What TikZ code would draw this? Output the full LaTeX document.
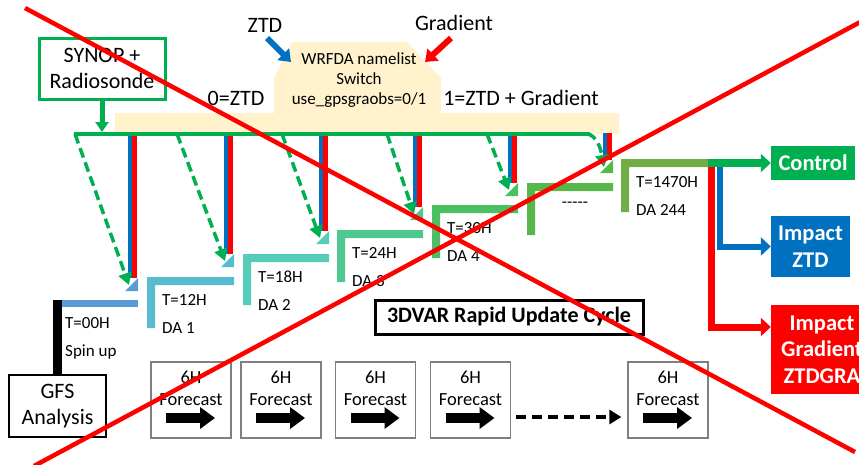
\documentclass[tikz,border=0pt]{standalone}
\usepackage{fontspec}
\setmainfont{Carlito}
\usetikzlibrary{arrows.meta}
\definecolor{cgreen}{HTML}{00B050}
\definecolor{cblue}{HTML}{0070C0}
\definecolor{cred}{HTML}{FF0000}
\definecolor{beige}{HTML}{FFF2CC}
\definecolor{lb0}{HTML}{5B9BD5}
\definecolor{lc1}{HTML}{57BCCF}
\definecolor{lc2}{HTML}{55CDB8}
\definecolor{lc3}{HTML}{4FC88F}
\definecolor{lc4}{HTML}{49C162}
\definecolor{lc5}{HTML}{55B848}
\definecolor{lc6}{HTML}{70AD47}
\definecolor{fgray}{HTML}{7F7F7F}
\begin{document}
\begin{tikzpicture}[x=1pt,y=-1pt,
  bigtxt/.style={font=\fontsize{22}{26}\selectfont, align=center, inner sep=0pt},
  midtxt/.style={font=\fontsize{17}{20}\selectfont, align=center, inner sep=0pt},
  fctxt/.style={font=\fontsize{18.5}{22}\selectfont, inner sep=0pt},
  boldw/.style={font=\bfseries\fontsize{22.5}{26.5}\selectfont, text=white, align=center, inner sep=0pt},
  dasharrow/.style={cgreen, line width=3.5pt, dash pattern=on 10pt off 5pt, -{Triangle[length=12pt,width=13pt]}},
  fcbox/.style={draw=fgray, line width=1.3pt, minimum width=80pt, minimum height=76pt, inner sep=0pt},
  fcarrow/.style={line width=10pt, -{Triangle[length=15pt,width=21pt]}},
  blockarrow/.style={line width=#1, line join=miter, -{Triangle[length=10pt,width=18pt]}}
]
\useasboundingbox (0,0) rectangle (859,464);
\clip (0,0) rectangle (859,464);

% beige switch shape
\fill[beige] (115,113) -- (274,113) -- (274,78) -- (292,42) -- (407,42) -- (441,78)
  -- (441,113) -- (619,113) -- (619,134) -- (115,134) -- cycle;
\node[midtxt] (wrf) at (359,80) {WRFDA namelist\\Switch\\use\_gpsgraobs=0/1};
\node[bigtxt] (zero) at (236,98) {0=ZTD};
\node[bigtxt] (one) at (521,98) {1=ZTD + Gradient};

% ZTD / Gradient inputs
\node[bigtxt] (ztd) at (265,25) {ZTD};
\node[bigtxt] (grad) at (454,23) {Gradient};
\coordinate (ztdin) at (291,62);
\coordinate (gradin) at (425,62);
\draw[cblue, line width=6pt, -{Triangle[length=11pt,width=16pt]}] (267,38) -- (ztdin);
\draw[cred, line width=6pt, -{Triangle[length=11pt,width=16pt]}] (451,38) -- (gradin);

% SYNOP box
\node[draw=cgreen, line width=3pt, minimum width=126pt, minimum height=61pt, bigtxt] (synop) at (102,68.5) {SYNOP +\\Radiosonde};
\coordinate (synin) at (102,132);
\draw[cgreen, line width=5pt, -{Triangle[length=10pt,width=13pt]}] (synop.south) -- (synin);

% pairs of blue/red lines, tips, dashed arrows
\foreach \R/\B/\col/\sx in {138/291/lb0/75, 234/267/lc1/177, 329/244/lc2/282, 423/220/lc3/387, 518/196/lc4/487}{
  \draw[cblue, line width=4.5pt] ({\R-8},134) -- ({\R-8},{\B-13});
  \draw[cred, line width=4.5pt] ({\R-3.5},134) -- ({\R-3.5},{\B-13});
  \fill[\col] (\R,{\B-13}) -- (\R,\B) -- ({\R-13},\B) -- cycle;
  \draw[dasharrow] (\sx,134) -- ({\R-9},{\B-6});
}
\draw[cblue, line width=4.5pt] (605,133) -- (605,160);
\draw[cred, line width=4.5pt] (609.5,133) -- (609.5,160);
\fill[lc5] (613,160) -- (613,173) -- (600,173) -- cycle;
\draw[cgreen, line width=4pt] (74,134) -- (590,134);
\draw[dasharrow] (587,134) .. controls (597,135) and (601,150) .. (604,167);

% spin up
\node[draw, line width=2.5pt, minimum width=97pt, minimum height=62pt, bigtxt] (gfs) at (57.5,406) {GFS\\Analysis};
\coordinate (t00) at (57.5,300);
\draw[line width=9pt] (gfs.north) -- (t00);
\fill[lb0] (62,300) rectangle (138,307);
\node[midtxt, anchor=west] (t00txt) at (65,323) {T=00H};
\node[midtxt, anchor=west] (spin) at (65,352) {Spin up};

% right branches
\node[fill=cgreen, minimum width=84pt, minimum height=34pt, boldw] (ctrl) at (813,163) {Control};
\node[fill=cblue, minimum width=79pt, minimum height=61pt, boldw] (imgz) at (810.5,246.5) {Impact\\ZTD};
\node[fill=cred, minimum width=102pt, minimum height=89pt, boldw] (imgr) at (822,349.5) {Impact\\Gradient\\ZTDGRA};
\path (imgr.west) ++(0,-22.5) coordinate (rin);
\draw[cred, blockarrow=7pt] (711.5,165) -- (711.5,327) -- (rin);
\draw[cblue, blockarrow=6pt] (720,165) -- (720,246.5) -- (imgz.west);

% L shapes
\foreach \L/\R/\T/\Bt/\col/\ta/\tb in {147/234/277/328/lc1/T=12H/DA 1, 243/329/254/305/lc2/T=18H/DA 2, 337/423/230/282/lc3/T=24H/DA 3, 432/518/205/258/lc4/T=30H/DA 4, 621/708/159/212/lc6/T=1470H/DA 244}{
  \fill[\col] (\L,\T) -- (\R,\T) -- (\R,{\T+8}) -- ({\L+8},{\T+8}) -- ({\L+8},\Bt) -- (\L,\Bt) -- cycle;
  \node[midtxt, anchor=west] at ({\L+15},{\T+23}) {\ta};
  \node[midtxt, anchor=west] at ({\L+15},{\T+51}) {\tb};
}
\fill[lc5] (527,183) -- (613,183) -- (613,191) -- (535,191) -- (535,235) -- (527,235) -- cycle;
\node[midtxt] (dots) at (575,205) {-{}-{}-{}-{}-};

\coordinate (l6end) at (708,163);
\draw[cgreen, blockarrow=8pt] (l6end) -- (ctrl.west);

% 3DVAR label
\node[draw, line width=3pt, minimum width=268pt, minimum height=34pt, inner sep=0pt, font=\bfseries\fontsize{22}{26}\selectfont] (rap) at (509,317) {3DVAR Rapid Update Cycle};

% forecast boxes
\foreach \cx/\n in {191/1, 281/2, 375.5/3, 470.5/4, 668/5}{
  \node[fcbox] (fc\n) at (\cx,400) {};
  \node[fctxt] at (\cx,377) {6H};
  \node[fctxt] at (\cx,400) {Forecast};
  \draw[fcarrow] ({\cx-25},418) -- ({\cx+24},418);
}
\path (fc4.east) ++(5,17) coordinate (dA);
\path (fc5.west) ++(-6,17) coordinate (dB);
\draw[line width=4pt, dash pattern=on 10pt off 6pt, -{Triangle[length=12pt,width=14pt]}] (dA) -- (dB);

% red cross
\draw[cred, line width=4.5pt] (25,8) -- (855,452);
\draw[cred, line width=4.5pt] (864,20) -- (34,466);
\end{tikzpicture}
\end{document}
